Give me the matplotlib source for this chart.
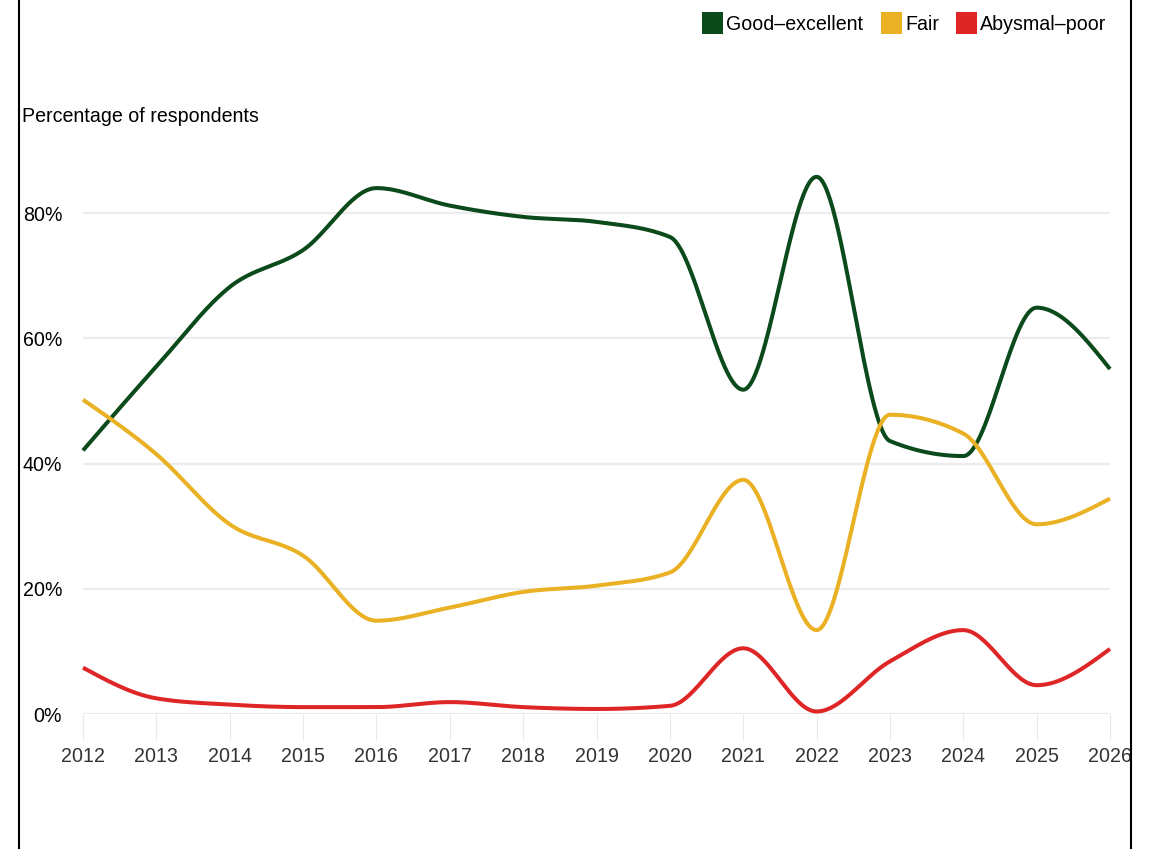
import numpy as np
import matplotlib.pyplot as plt
from matplotlib.lines import Line2D
from matplotlib.patches import Rectangle

# --- Data ---
years = [2012, 2013, 2014, 2015, 2016, 2017, 2018, 2019, 2020, 2021, 2022, 2023, 2024, 2025, 2026]
good_excellent = [42.1, 55.5, 68.2, 74.1, 84.0, 81.2, 79.4, 78.6, 76.2, 51.8, 85.8, 43.6, 41.2, 64.9, 55.1]
fair = [50.2, 41.5, 30.3, 25.3, 14.9, 17.0, 19.5, 20.5, 22.6, 37.4, 13.4, 47.8, 44.8, 30.3, 34.4]
abysmal_poor = [7.4, 2.5, 1.5, 1.1, 1.1, 1.9, 1.1, 0.8, 1.3, 10.5, 0.4, 8.4, 13.4, 4.6, 10.4]

labels = ['Good\u2013excellent', 'Fair', 'Abysmal\u2013poor']
colors = ['#0b4a1b', '#e9b123', '#df2627']
yticks = [0, 20, 40, 60, 80]

plt.rcParams['font.family'] = ['Liberation Sans', 'DejaVu Sans']
FS = 14.1


def sgn(v):
    return -1.0 if v < 0 else 1.0


def monotone_curve(xs, ys, n=60):
    # monotone cubic interpolation (same idea as d3 curveMonotoneX)
    xs = np.asarray(xs, dtype=float)
    ys = np.asarray(ys, dtype=float)
    h = np.diff(xs)
    s = np.diff(ys) / h
    t = np.zeros(len(xs))
    for i in range(1, len(xs) - 1):
        p = (s[i - 1] * h[i] + s[i] * h[i - 1]) / (h[i - 1] + h[i])
        t[i] = (sgn(s[i - 1]) + sgn(s[i])) * min(abs(s[i - 1]), abs(s[i]), 0.5 * abs(p))
    t[0] = (3 * s[0] - t[1]) / 2
    t[-1] = (3 * s[-1] - t[-2]) / 2
    out_x, out_y = [], []
    for i in range(len(xs) - 1):
        u = np.linspace(0, 1, n)
        h00 = 2 * u**3 - 3 * u**2 + 1
        h10 = u**3 - 2 * u**2 + u
        h01 = -2 * u**3 + 3 * u**2
        h11 = u**3 - u**2
        yy = h00 * ys[i] + h10 * h[i] * t[i] + h01 * ys[i + 1] + h11 * h[i] * t[i + 1]
        out_x.extend(xs[i] + u * h[i])
        out_y.extend(yy)
    return np.array(out_x), np.array(out_y)


# --- Plotting ---
W, H = 1153, 849
fig = plt.figure(figsize=(W / 100, H / 100), dpi=100)
ax = fig.add_axes([83 / W, 135 / H, 1027 / W, 576 / H])

for series, color in zip([good_excellent, fair, abysmal_poor], colors):
    cx, cy = monotone_curve(years, series)
    ax.plot(cx, cy, color=color, linewidth=2.9, solid_capstyle='butt', zorder=3, clip_on=False)

ax.set_xlim(2012, 2026)
ax.set_ylim(0, 92)
ax.set_xticks(years)
ax.set_xticklabels([str(y) for y in years], fontsize=FS, color='#333333')
ax.set_yticks(yticks)
ax.set_yticklabels([f'{v}%' for v in yticks], fontsize=FS, color='black')
ax.tick_params(axis='x', length=19, width=0.8, color='#e8e8e8', pad=4.5)
ax.tick_params(axis='y', length=0, pad=15)
ax.yaxis.grid(True, color='#ececec', linewidth=1.6)
ax.set_axisbelow(True)
for sp in ax.spines.values():
    sp.set_visible(False)

fig.text(22 / W, 1 - 116 / H, 'Percentage of respondents', fontsize=FS, ha='left', va='center')

# --- Legend (top right) ---
legend_x = [702, 881, 956]
for lx, lab, color in zip(legend_x, labels, colors):
    fig.add_artist(Rectangle((lx / W, 1 - 34 / H), 21 / W, 22 / H, transform=fig.transFigure,
                             facecolor=color, edgecolor='none'))
    fig.text((lx + 24) / W, 1 - 24 / H, lab, fontsize=FS, ha='left', va='center')

# --- Frame lines ---
fig.add_artist(Line2D([19 / W, 19 / W], [0, 1], color='black', linewidth=1.5))
fig.add_artist(Line2D([1131 / W, 1131 / W], [0, 1], color='black', linewidth=1.5))

fig.savefig('out.png', dpi=100)
